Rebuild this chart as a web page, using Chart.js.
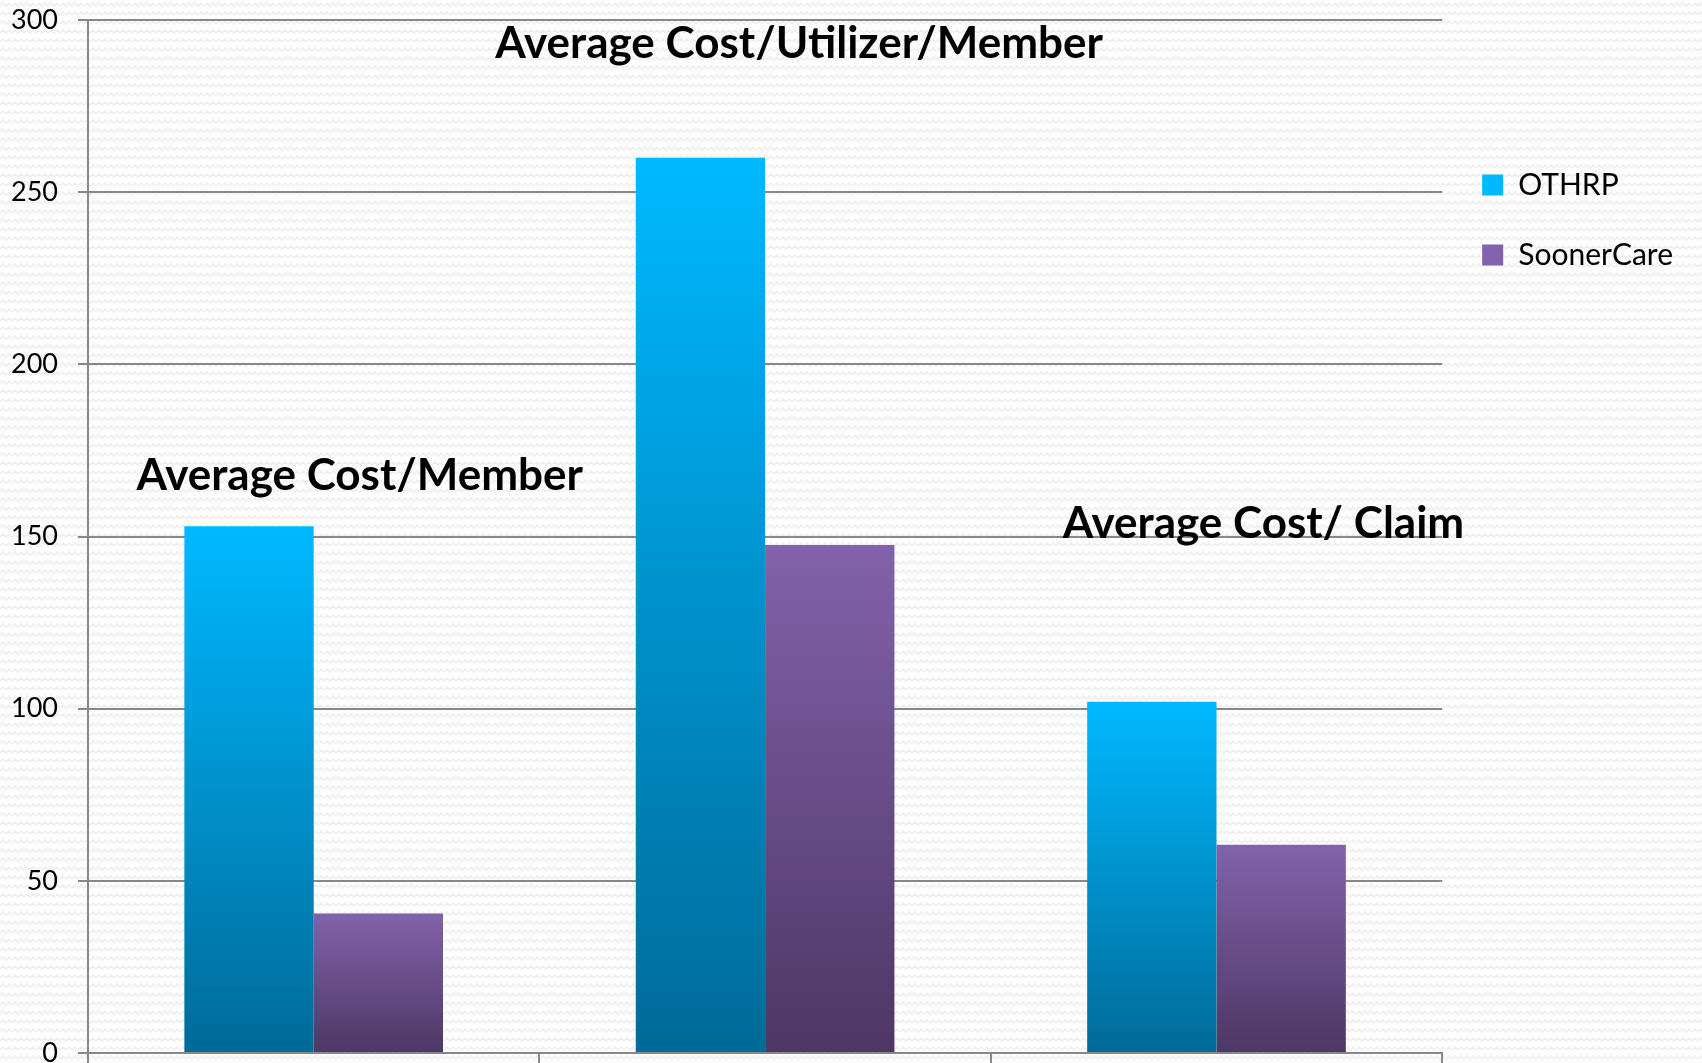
<!DOCTYPE html>
<html>
<head>
<meta charset="utf-8">
<script src="https://cdn.jsdelivr.net/npm/chart.js@4.4.1/dist/chart.umd.min.js"></script>
<style>
  html, body { margin: 0; padding: 0; background: #fcfcfc; }
  #wrap { width: 1702px; height: 1063px; }
</style>
</head>
<body>
<div id="wrap"><canvas id="costChart" width="1702" height="1063"></canvas></div>
<script>
// Chart data
const categories = ['Average Cost/Member', 'Average Cost/Utilizer/Member', 'Average Cost/ Claim'];
const seriesNames = ['OTHRP', 'SoonerCare'];
const othrpValues = [153, 260, 102];
const soonerCareValues = [40.5, 147.5, 60.5];
const yTicks = [0, 50, 100, 150, 200, 250, 300];

const gridGray = '#888888';

// vertical gradient per bar (top of the bar -> baseline)
function barGradient(top, bottom, solid) {
    return (context) => {
        const chart = context.chart;
        if (context.type !== 'data' || !chart.chartArea) return solid;
        const y = chart.scales.y;
        const y0 = y.getPixelForValue(context.raw);
        const y1 = y.getPixelForValue(0);
        const g = chart.ctx.createLinearGradient(0, y0, 0, y1);
        g.addColorStop(0, top);
        g.addColorStop(1, bottom);
        return g;
    };
}

// light wavy background like the slide
const wavyBackground = {
    id: 'wavyBackground',
    beforeDraw(chart) {
        const { ctx, width, height } = chart;
        const tile = document.createElement('canvas');
        tile.width = 12;
        tile.height = 9;
        const t = tile.getContext('2d');
        t.fillStyle = '#fdfdfd';
        t.fillRect(0, 0, 12, 9);
        t.strokeStyle = '#efefef';
        t.lineWidth = 1.5;
        t.beginPath();
        t.moveTo(0, 6);
        t.lineTo(3, 3);
        t.lineTo(6, 6);
        t.lineTo(9, 3);
        t.lineTo(12, 6);
        t.stroke();
        ctx.save();
        ctx.fillStyle = ctx.createPattern(tile, 'repeat');
        ctx.fillRect(0, 0, width, height);
        ctx.restore();
    }
};

// category names drawn as big bold captions inside the plot
const categoryTitles = {
    id: 'categoryTitles',
    afterDatasetsDraw(chart, args, opts) {
        const { ctx, scales: { x, y } } = chart;
        ctx.save();
        ctx.font = opts.font;
        ctx.fillStyle = opts.color;
        ctx.textAlign = 'center';
        ctx.textBaseline = 'alphabetic';
        categories.forEach((label, i) => {
            const px = x.getPixelForValue(i) + opts.dx[i];
            const py = y.getPixelForValue(opts.level[i]);
            ctx.fillText(label, px, py);
        });
        ctx.restore();
    }
};

const ctx = document.getElementById('costChart').getContext('2d');

new Chart(ctx, {
    type: 'bar',
    data: {
        labels: categories,
        datasets: [{
            label: seriesNames[0],
            data: othrpValues,
            backgroundColor: barGradient('#00b9ff', '#006a98', '#0094cf'),
            borderWidth: 0,
            categoryPercentage: 0.573,
            barPercentage: 1.0
        }, {
            label: seriesNames[1],
            data: soonerCareValues,
            backgroundColor: barGradient('#8262aa', '#4d3764', '#6c4f8f'),
            borderWidth: 0,
            categoryPercentage: 0.573,
            barPercentage: 1.0
        }]
    },
    options: {
        responsive: false,
        animation: false,
        layout: { padding: { left: 12, top: 20, right: 19, bottom: 0 } },
        scales: {
            x: {
                grid: {
                    drawOnChartArea: false,
                    drawTicks: true,
                    tickLength: 10,
                    color: gridGray,
                    lineWidth: 2
                },
                border: { color: gridGray, width: 2 },
                ticks: { display: false },
                afterFit(scale) {
                    scale.height = 10;
                    scale.paddingLeft = 0;
                    scale.paddingRight = 0;
                }
            },
            y: {
                min: yTicks[0],
                max: yTicks[yTicks.length - 1],
                ticks: {
                    stepSize: yTicks[1] - yTicks[0],
                    color: '#000',
                    padding: 20,
                    font: { family: 'Lato', size: 27 }
                },
                grid: { color: gridGray, lineWidth: 2, tickLength: 10 },
                border: { color: gridGray, width: 2 },
                afterFit(scale) {
                    scale.width = 76;
                    scale.paddingTop = 0;
                    scale.paddingBottom = 0;
                }
            }
        },
        plugins: {
            legend: {
                position: 'right',
                align: 'start',
                title: { display: true, text: ' ', font: { size: 1, lineHeight: 1 }, padding: { top: 55, bottom: 54 } },
                labels: {
                    color: '#000',
                    boxWidth: 21,
                    boxHeight: 21,
                    padding: 40,
                    font: { family: 'Lato', size: 30 }
                }
            },
            tooltip: { enabled: false },
            categoryTitles: {
                font: 'bold 44px Lato',
                color: '#000',
                dx: [46, 34, 47],
                level: [163.5, 289, 149.5]
            }
        }
    },
    plugins: [wavyBackground, categoryTitles]
});
</script>
</body>
</html>
